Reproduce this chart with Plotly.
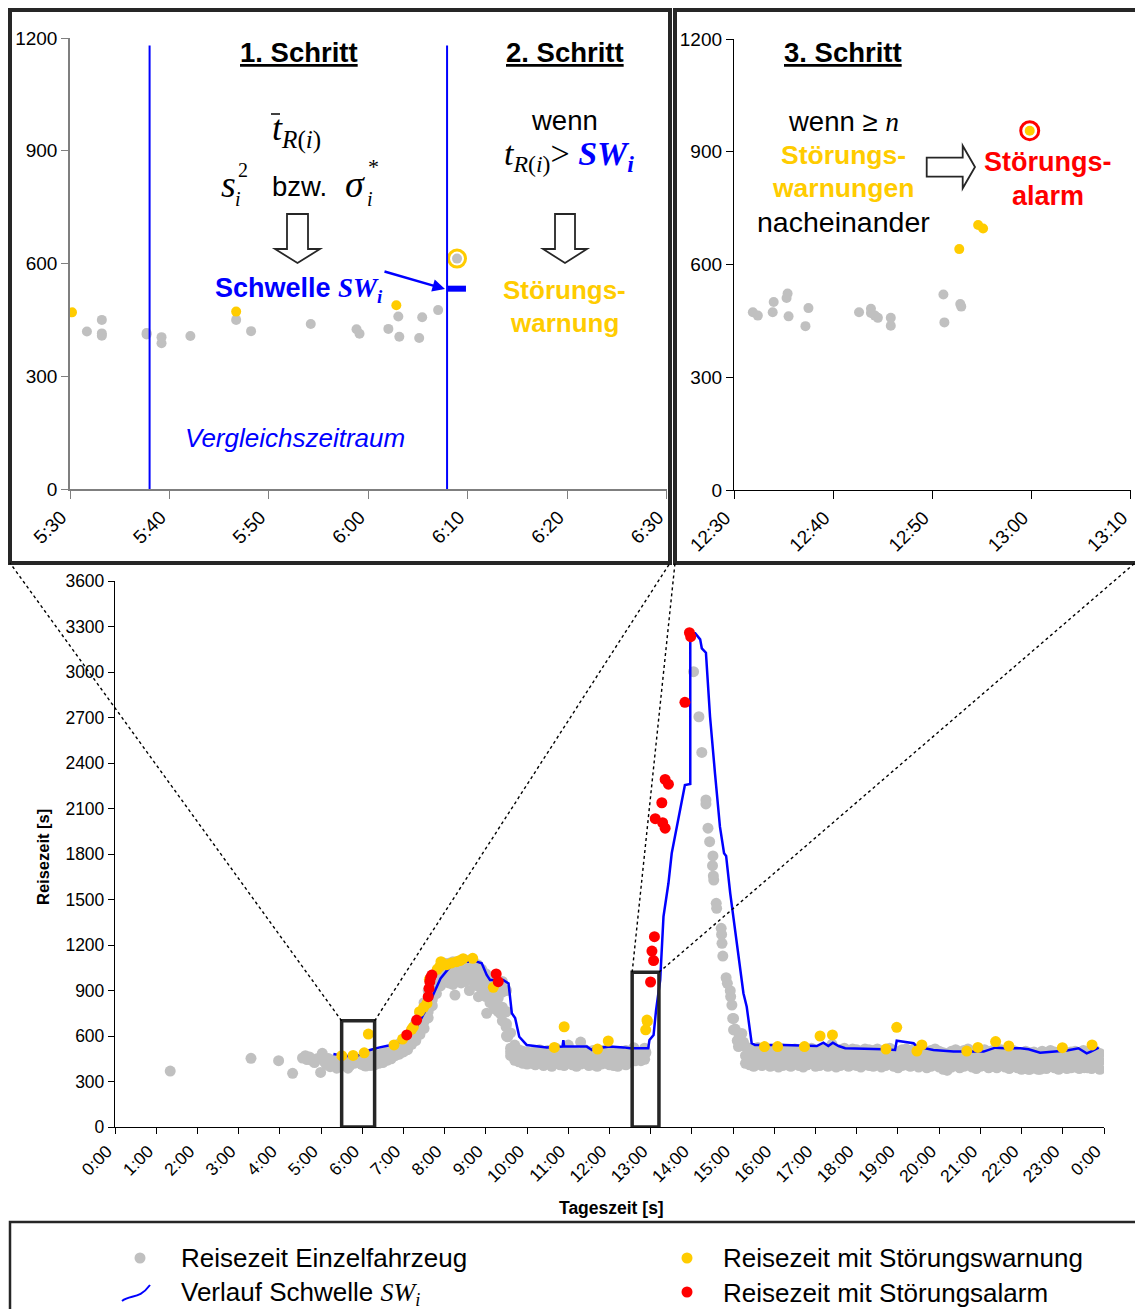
import plotly.graph_objects as go

W, H = 1135, 1309
SANS = "Liberation Sans, Arial, Helvetica, sans-serif"
SERIF = "Liberation Serif, Times New Roman, serif"
GRAY, YELLOW, RED, BLUE, FRAME = "#C0C0C0", "#FFCC00", "#FF0000", "#0000FF", "#262626"

# ---------------- data: time of day [h], travel time [s] ----------------
# early isolated vehicles
early_t = [1.34, 3.30, 3.97, 4.31, 4.55, 4.62, 4.66, 4.72, 4.78, 4.84, 4.90, 4.99, 5.03,
           5.08, 5.13, 5.18, 5.22, 5.28, 5.33, 5.38, 5.43, 5.47]
early_v = [369, 453, 437, 354, 455, 470, 445, 462, 440, 425, 450, 360, 486,
           430, 412, 452, 398, 440, 420, 388, 432, 405]

# detail window 5:30-6:30 (minutes after 5:30)
win1_gray_m = [1.7, 3.2, 3.2, 3.2, 7.7, 7.7, 9.2, 9.2, 12.1, 16.7, 18.2, 24.2, 28.8, 29.1,
               32.0, 33.0, 33.1, 35.1, 35.4, 37.0]
win1_gray_v = [419, 450, 414, 408, 415, 411, 404, 388, 407, 450, 420, 439, 425, 413,
               426, 459, 405, 402, 457, 476]
win1_warn_m = [0.2, 16.7, 32.8]
win1_warn_v = [470, 472, 489]
win1_check_m = [38.9]
win1_check_v = [613]
win1_sw_m = [37.9, 39.8]
win1_sw_v = [533, 533]
win1_period_m = [8.0, 37.9]      # comparison period limits

# detail window 12:30-13:10 (minutes after 12:30)
win2_gray_m = [1.9, 2.4, 3.9, 4.0, 5.3, 5.4, 5.5, 7.2, 7.5, 12.6, 13.8, 13.8, 14.2, 14.5,
               15.8, 15.8, 21.1, 21.2, 22.8, 22.9]
win2_gray_v = [473, 464, 473, 500, 511, 523, 462, 436, 484, 473, 482, 471, 464, 458,
               458, 437, 520, 446, 495, 488]
win2_warn_m = [22.7, 24.6, 25.1]
win2_warn_v = [641, 705, 696]
win2_alarm_m = [29.8]
win2_alarm_v = [956]

# morning band 6:12 .. 10:06, readings every 6 minutes (lower / lower-middle / middle / upper)
morn_start = 6.2
morn_lo = [405, 410, 420, 425, 440, 450, 470, 480, 495, 510, 545, 570, 610, 650, 720, 800, 880, 930, 960, 950,
           940, 960, 950, 960, 980, 960, 930, 880, 860, 820, 780, 760, 700, 600, 470, 440, 430, 420, 415, 420]
morn_lm = [420, 428, 436, 440, 455, 465, 485, 498, 512, 535, 565, 600, 645, 695, 760, 840, 920, 965, 990, 990,
           985, 1000, 995, 1005, 1020, 1005, 975, 930, 905, 860, 830, 800, 790, 680, 495, 460, 450, 440, 435, 435]
morn_mid = [440, 445, 450, 455, 470, 480, 500, 515, 530, 560, 590, 630, 680, 740, 800, 880, 960, 1000, 1020, 1030,
            1030, 1040, 1040, 1050, 1060, 1050, 1020, 980, 950, 900, 880, 850, 890, 760, 520, 480, 470, 460, 455, 450]
morn_hi = [470, 480, 475, 490, 500, 510, 530, 550, 570, 600, 640, 690, 750, 820, 900, 960, 1020, 1060, 1080, 1080,
           1090, 1090, 1095, 1100, 1100, 1090, 1070, 1040, 1010, 980, 960, 950, 960, 900, 620, 540, 510, 500, 495, 490]
morn_out_t = [8.25, 8.60, 8.82, 9.02, 9.17, 9.30, 9.35, 9.49, 9.53]
morn_out_v = [870, 900, 859, 750, 925, 771, 750, 661, 595]

# midday band 10:12 .. 12:24
mid_start = 10.2
mid_lo = [410, 420, 405, 415, 400, 420, 410, 405, 425, 410, 400, 415, 420, 405, 410, 400, 415, 420, 410, 405, 400, 415, 410]
mid_mid = [450, 460, 445, 455, 440, 460, 450, 445, 470, 455, 440, 450, 465, 450, 455, 445, 450, 460, 450, 445, 440, 455, 450]
mid_hi = [500, 510, 490, 505, 485, 520, 500, 495, 540, 500, 490, 560, 510, 500, 505, 495, 500, 510, 495, 490, 485, 500, 505]

# congestion decay after the incident
peak_t = [14.04, 14.17, 14.24, 14.34, 14.34, 14.39, 14.43, 14.51, 14.50, 14.52, 14.53, 14.59, 14.60, 14.71,
          14.72, 14.73, 14.75, 14.83, 14.86, 14.93, 14.94, 14.97, 14.99, 15.01, 15.01, 15.05, 15.10, 15.13,
          15.15, 15.21, 15.25]
peak_v = [3002, 2705, 2470, 2156, 2130, 1970, 1881, 1787, 1723, 1655, 1628, 1475, 1442, 1310,
          1270, 1211, 1127, 984, 947, 899, 860, 804, 716, 716, 640, 646, 570, 530,
          600, 617, 560]

# afternoon / evening band 15:18 .. 23:54
eve_start = 15.3
eve_lo = [420, 410, 400, 415, 405, 420, 400, 410, 395, 405,
          410, 400, 415, 405, 395, 410, 420, 400, 405, 415,
          400, 410, 395, 405, 415, 400, 410, 405, 395, 410,
          405, 400, 410, 395, 405, 415, 400, 390, 405, 410,
          400, 410, 395, 405, 390, 400, 410, 395, 380, 375,
          395, 405, 390, 400, 410, 395, 385, 400, 405, 390,
          400, 390, 405, 395, 385, 400, 390, 380, 395, 380,
          390, 380, 395, 385, 400, 390, 380, 395, 385, 390,
          395, 385, 400, 390, 385, 395, 380]
eve_mid = [470, 460, 455, 465, 450, 470, 455, 460, 450, 465,
           460, 455, 470, 450, 445, 465, 470, 455, 460, 470,
           455, 465, 450, 460, 470, 455, 465, 460, 450, 465,
           460, 455, 465, 450, 460, 470, 455, 445, 460, 465,
           455, 465, 450, 460, 445, 455, 465, 450, 440, 435,
           450, 460, 445, 455, 465, 450, 440, 455, 460, 445,
           455, 445, 460, 450, 440, 455, 445, 435, 450, 440,
           445, 435, 450, 440, 455, 445, 435, 450, 440, 445,
           450, 440, 455, 445, 440, 450, 435]
eve_hi = [530, 520, 510, 525, 505, 515, 500, 510, 500, 515,
          505, 500, 515, 500, 495, 510, 520, 505, 510, 520,
          505, 515, 500, 510, 520, 505, 515, 510, 500, 515,
          510, 505, 515, 500, 510, 520, 505, 495, 510, 515,
          505, 515, 500, 510, 495, 505, 515, 500, 490, 485,
          500, 510, 495, 505, 515, 500, 490, 505, 510, 495,
          505, 495, 510, 500, 490, 505, 495, 485, 500, 490,
          495, 485, 500, 490, 505, 495, 485, 500, 490, 495,
          500, 490, 505, 495, 490, 500, 485]
eve_out_t = [17.40, 20.18, 22.17, 22.45, 23.52, 23.83]
eve_out_v = [545, 376, 380, 380, 391, 430]

# warnings and alarms
warn_t = [5.503, 5.778, 6.047, 6.148, 6.77, 6.98, 7.20, 7.24, 7.39, 7.49, 7.57, 7.63, 7.82, 7.88, 7.91,
          8.05, 8.17, 8.29, 8.37, 8.45, 8.68, 9.18, 10.66, 10.90, 11.71, 11.97, 12.878, 12.910, 12.918,
          15.76, 16.08, 16.73, 17.11, 17.41, 18.71, 18.97, 19.46, 19.58, 20.67, 20.94, 21.37, 21.69,
          22.99, 23.71]
warn_v = [470, 472, 489, 613, 541, 580, 644, 660, 760, 789, 815, 974, 1040, 1057, 1090,
          1070, 1082, 1090, 1097, 1110, 1112, 921, 525, 661, 514, 567, 641, 705, 696,
          530, 530, 530, 600, 607, 514, 657, 501, 541, 501, 525, 563, 534,
          523, 541]
alarm_t = [7.08, 7.32, 7.60, 7.62, 7.64, 7.66, 7.69, 9.25, 9.30, 12.997, 13.03, 13.07, 13.09, 13.11,
           13.27, 13.29, 13.35, 13.35, 13.43, 13.83, 13.94, 13.97]
alarm_v = [607, 705, 859, 914, 958, 985, 1002, 1009, 958, 956, 1160, 1097, 1255, 2033,
           2138, 2006, 1970, 2292, 2260, 2800, 3259, 3233]

# threshold SW_i
sw_t = [5.30, 5.54, 5.87, 6.19, 6.42, 6.70, 7.00, 7.30, 7.60, 7.90, 8.20, 8.50, 8.78, 8.90, 9.02, 9.10,
        9.42, 9.55, 9.63, 9.71, 9.81, 9.93, 9.99, 10.48, 10.86, 10.88, 10.90, 11.45, 11.57, 11.60, 12.01,
        12.34, 12.50, 12.94, 12.97, 13.07, 13.13, 13.23, 13.31, 13.43, 13.51, 13.83, 13.96, 13.96, 14.08,
        14.20, 14.24, 14.34, 14.44, 14.56, 14.68, 14.78, 14.83, 14.93, 15.07, 15.25, 15.33, 15.45, 15.53,
        16.22, 17.03, 17.19, 17.31, 17.42, 17.56, 17.72, 18.65, 18.93, 18.97, 19.38, 19.46, 19.86, 20.35,
        21.08, 21.36, 21.60, 21.97, 22.17, 22.45, 22.69, 23.10, 23.38, 23.58, 23.68, 23.87]
sw_v = [481, 468, 468, 508, 525, 540, 570, 650, 800, 980, 1080, 1090, 1090, 1079, 1002, 969,
        969, 947, 750, 718, 595, 562, 541, 525, 530, 573, 530, 530, 508, 516, 530,
        525, 520, 519, 574, 607, 771, 969, 1387, 1607, 1805, 2255, 2262, 3255, 3255,
        3215, 3156, 3127, 2705, 2332, 1980, 1805, 1787, 1541, 1255, 882, 793, 552, 541,
        541, 534, 556, 534, 556, 534, 519, 513, 508, 569, 552, 530, 508, 497,
        497, 523, 519, 519, 513, 490, 497, 504, 519, 486, 497, 523]
assert len(sw_t) == len(sw_v) and len(warn_t) == len(warn_v) and len(alarm_t) == len(alarm_v)

hour_labels = [f"{h % 24}:00" for h in range(25)]
win1_labels = ["5:30", "5:40", "5:50", "6:00", "6:10", "6:20", "6:30"]
win2_labels = ["12:30", "12:40", "12:50", "13:00", "13:10"]

# ---------------- assemble ----------------
def band(start, rows):
    ts, vs = [], []
    for row in rows:
        for i, v in enumerate(row):
            ts.append(round(start + 0.1 * i, 2))
            vs.append(v)
    return ts, vs

w1h = lambda m: 5.5 + m / 60.0
w2h = lambda m: 12.5 + m / 60.0

mt, mv = band(morn_start, [morn_lo, morn_lm, morn_mid, morn_hi])
dt, dv = band(mid_start, [mid_lo, mid_mid, mid_hi])
et, ev = band(eve_start, [eve_lo, eve_mid, eve_hi])
gray_t = (early_t + [w1h(m) for m in win1_gray_m] + mt + morn_out_t + dt +
          [w2h(m) for m in win2_gray_m] + peak_t + et + eve_out_t)
gray_v = early_v + win1_gray_v + mv + morn_out_v + dv + win2_gray_v + peak_v + ev + eve_out_v

# ---------------- geometry (pixels) ----------------
MX0, MX1, MYB, MYT = 115, 1104, 1127, 581
A1X0, A1X1, A1YB, A1YT = 70, 667, 489, 38
A2X0, A2X1, A2YB, A2YT = 734, 1131, 490, 39


def px(x):
    return x / W


def py(y):
    return 1 - y / H


def main_px(h):
    return MX0 + (MX1 - MX0) * h / 24.0


def main_py(v):
    return MYB - (MYB - MYT) * v / 3600.0


fig = go.Figure()
MS_DAY, MS = 11, 10
fig.add_trace(go.Scatter(x=gray_t, y=gray_v, mode="markers", marker=dict(color=GRAY, size=MS_DAY),
                         xaxis="x", yaxis="y", hoverinfo="skip"))
fig.add_trace(go.Scatter(x=sw_t, y=sw_v, mode="lines", line=dict(color=BLUE, width=2.5),
                         xaxis="x", yaxis="y", hoverinfo="skip"))
fig.add_trace(go.Scatter(x=warn_t, y=warn_v, mode="markers", marker=dict(color=YELLOW, size=MS_DAY),
                         xaxis="x", yaxis="y", hoverinfo="skip"))
fig.add_trace(go.Scatter(x=alarm_t, y=alarm_v, mode="markers", marker=dict(color=RED, size=MS_DAY),
                         xaxis="x", yaxis="y", hoverinfo="skip"))

# window 1
fig.add_trace(go.Scatter(x=[w1h(m) for m in win1_gray_m + win1_check_m], y=win1_gray_v + win1_check_v,
                         mode="markers", marker=dict(color=GRAY, size=MS), xaxis="x2", yaxis="y2"))
fig.add_trace(go.Scatter(x=[w1h(m) for m in win1_warn_m], y=win1_warn_v, mode="markers",
                         marker=dict(color=YELLOW, size=MS), xaxis="x2", yaxis="y2"))
fig.add_trace(go.Scatter(x=[w1h(m) for m in win1_check_m], y=win1_check_v, mode="markers",
                         marker=dict(symbol="circle-open", color=YELLOW, size=17, line=dict(width=3)),
                         xaxis="x2", yaxis="y2"))
fig.add_trace(go.Scatter(x=[w1h(m) for m in win1_sw_m], y=win1_sw_v, mode="lines",
                         line=dict(color=BLUE, width=6), xaxis="x2", yaxis="y2"))

# window 2
fig.add_trace(go.Scatter(x=[w2h(m) for m in win2_gray_m], y=win2_gray_v, mode="markers",
                         marker=dict(color=GRAY, size=MS), xaxis="x3", yaxis="y3"))
fig.add_trace(go.Scatter(x=[w2h(m) for m in win2_warn_m + win2_alarm_m], y=win2_warn_v + win2_alarm_v,
                         mode="markers", marker=dict(color=YELLOW, size=MS), xaxis="x3", yaxis="y3"))
fig.add_trace(go.Scatter(x=[w2h(m) for m in win2_alarm_m], y=win2_alarm_v, mode="markers",
                         marker=dict(symbol="circle-open", color=RED, size=18, line=dict(width=3)),
                         xaxis="x3", yaxis="y3"))

axis_common = dict(showgrid=False, zeroline=False, showline=True, ticks="outside", mirror=False,
                   automargin=False)
fig.update_layout(
    width=W, height=H, margin=dict(l=0, r=0, t=0, b=0, autoexpand=False),
    paper_bgcolor="white", plot_bgcolor="rgba(0,0,0,0)", showlegend=False,
    font=dict(family=SANS, color="black"),
    xaxis=dict(domain=[px(MX0), px(MX1)], range=[0, 24], tickvals=list(range(25)), ticktext=hour_labels,
               tickangle=-45, ticklen=6, linecolor="black", linewidth=1.3, tickcolor="black",
               tickfont=dict(size=17.5, family=SANS), ticklabelshift=-8, anchor="y", **axis_common),
    yaxis=dict(domain=[py(MYB), py(MYT)], range=[0, 3600], dtick=300, ticklen=6, linecolor="black",
               linewidth=1.3, tickcolor="black", tickfont=dict(size=17.5, family=SANS), anchor="x",
               **axis_common),
    xaxis2=dict(domain=[px(A1X0), px(A1X1)], range=[5.5, 6.5 + 1e-4],
                tickvals=[round(5.5 + i / 6, 6) for i in range(7)], ticktext=win1_labels, tickangle=-45,
                ticklen=8, linecolor="#7f7f7f", linewidth=1.5, tickcolor="#7f7f7f", tickfont=dict(size=19),
                ticklabelshift=-9, anchor="y2", **axis_common),
    yaxis2=dict(domain=[py(A1YB), py(A1YT)], range=[0, 1200], dtick=300, ticklen=7, linecolor="#7f7f7f",
                linewidth=1.5, tickcolor="#7f7f7f", tickfont=dict(size=19), anchor="x2", **axis_common),
    xaxis3=dict(domain=[px(A2X0), px(A2X1)], range=[12.5, 12.5 + 40 / 60 + 1e-4],
                tickvals=[round(12.5 + i / 6, 6) for i in range(5)], ticktext=win2_labels, tickangle=-45,
                ticklen=8, linecolor="black", linewidth=1.3, tickcolor="black", tickfont=dict(size=19),
                ticklabelshift=-9, anchor="y3", **axis_common),
    yaxis3=dict(domain=[py(A2YB), py(A2YT)], range=[0, 1200], dtick=300, ticklen=7, linecolor="black",
                linewidth=1.3, tickcolor="black", tickfont=dict(size=19), anchor="x3", **axis_common),
)

shapes = []
# comparison period limits in window 1
for m in win1_period_m:
    shapes.append(dict(type="line", xref="x2", yref="y2", x0=w1h(m), x1=w1h(m), y0=0, y1=1180,
                       line=dict(color=BLUE, width=2)))
# detail boxes in the day chart
box1 = (5.5, 6.3, 700)
box2 = (12.55, 13.2, 1020)
for (a, b, top) in (box1, box2):
    shapes.append(dict(type="rect", xref="x", yref="y", x0=a, x1=b, y0=0, y1=top,
                       line=dict(color=FRAME, width=3.5), layer="above"))
# window frames
shapes.append(dict(type="rect", xref="paper", yref="paper", x0=px(10), x1=px(670), y0=py(563), y1=py(10),
                   line=dict(color=FRAME, width=4)))
shapes.append(dict(type="rect", xref="paper", yref="paper", x0=px(675), x1=px(1140), y0=py(563), y1=py(10),
                   line=dict(color=FRAME, width=4)))
# dotted connectors box -> window
conn = [((main_px(box1[0]), main_py(box1[2])), (10, 563)),
        ((main_px(box1[1]), main_py(box1[2])), (670, 563)),
        ((main_px(box2[0]), main_py(box2[2])), (675, 563)),
        ((main_px(box2[1]), main_py(box2[2])), (1135, 563))]
for (p, q) in conn:
    shapes.append(dict(type="line", xref="paper", yref="paper", x0=px(p[0]), y0=py(p[1]),
                       x1=px(q[0]), y1=py(q[1]), line=dict(color="black", width=1.4, dash="dot")))


def poly(points):
    return "M " + " L ".join(f"{px(x):.5f},{py(y):.5f}" for x, y in points) + " Z"


for pts in ([(287, 214), (308, 214), (308, 249), (320, 249), (297.5, 263), (275, 249), (287, 249)],
            [(555, 214), (575, 214), (575, 249), (587, 249), (565, 263), (543, 249), (555, 249)],
            [(926.7, 157.7), (962.7, 157.7), (962.7, 145.7), (975, 167), (962.7, 188.3), (962.7, 176.7),
             (926.7, 176.7)]):
    shapes.append(dict(type="path", xref="paper", yref="paper", path=poly(pts), fillcolor="white",
                       line=dict(color=FRAME, width=1.8)))
# macron over t
shapes.append(dict(type="line", xref="paper", yref="paper", x0=px(271), x1=px(280), y0=py(114), y1=py(114),
                   line=dict(color="black", width=1.5)))
# legend frame and symbols
shapes.append(dict(type="rect", xref="paper", yref="paper", x0=px(10), x1=px(1145), y0=py(1320), y1=py(1222),
                   line=dict(color=FRAME, width=2.5)))
for (cx, cy, col) in ((140, 1258, GRAY), (687, 1258, YELLOW), (687, 1292, RED)):
    shapes.append(dict(type="circle", xref="paper", yref="paper", x0=px(cx - 5.5), x1=px(cx + 5.5),
                       y0=py(cy + 5.5), y1=py(cy - 5.5), fillcolor=col, line=dict(width=0)))
shapes.append(dict(type="path", xref="paper", yref="paper",
                   path=(f"M {px(122):.5f},{py(1301):.5f} C {px(131):.5f},{py(1294):.5f} "
                         f"{px(139):.5f},{py(1300):.5f} {px(150):.5f},{py(1285):.5f}"),
                   line=dict(color=BLUE, width=2)))
fig.update_layout(shapes=shapes)

ann = []


def txt(x, y, text, size, color="black", family=SANS, xanchor="center", angle=0):
    ann.append(dict(x=px(x), y=py(y), xref="paper", yref="paper", text=text, showarrow=False,
                    xanchor=xanchor, yanchor="middle", textangle=angle,
                    font=dict(size=size, color=color, family=family)))


serif_span = "<span style='font-family:Liberation Serif, Times New Roman, serif'>"
# window 1 texts
txt(299, 52, "<b><u>1. Schritt</u></b>", 27.5)
txt(565, 52, "<b><u>2. Schritt</u></b>", 27.5)
txt(296, 131, "<i>t</i><sub><i>R</i>(<i>i</i>)</sub>", 36, family=SERIF)
txt(228, 184, "<i>s</i>", 38, family=SERIF)
txt(243, 170, "2", 20, family=SERIF)
txt(238, 199, "<i>i</i>", 20, family=SERIF)
txt(299, 187, "bzw.", 27.5)
txt(355, 184, "<i>σ</i>", 38, family=SERIF)
txt(374, 167, "*", 22, family=SERIF)
txt(370, 199, "<i>i</i>", 20, family=SERIF)
txt(299, 290, "<b>Schwelle </b>" + serif_span + "<b><i>SW</i></b><sub><b><i>i</i></b></sub></span>", 27,
    color=BLUE)
txt(295, 438, "<i>Vergleichszeitraum</i>", 26, color=BLUE)
txt(564, 120, "wenn", 27.5)
txt(569, 156, "<i>t</i><sub><i>R</i>(<i>i</i>)</sub>><span style='color:#0000FF'> <b><i>SW</i></b>"
    "<sub><b><i>i</i></b></sub></span>", 34, family=SERIF)
txt(564, 290, "<b>Störungs-</b>", 26, color=YELLOW)
txt(564, 323, "<b>warnung</b>", 26, color=YELLOW)
ann.append(dict(x=px(445), y=py(289), xref="paper", yref="paper", ax=-62, ay=-18, text="", showarrow=True,
                arrowhead=2, arrowsize=1, arrowwidth=2.5, arrowcolor=BLUE))
# window 2 texts
txt(843, 53, "<b><u>3. Schritt</u></b>", 27.5)
txt(843, 122, "wenn ≥ " + serif_span + "<i>n</i></span>", 27.5)
txt(843, 155, "<b>Störungs-</b>", 26.5, color=YELLOW)
txt(843, 188, "<b>warnungen</b>", 26.5, color=YELLOW)
txt(843, 222, "nacheinander", 28.5)
txt(1048, 162, "<b>Störungs-</b>", 27, color=RED)
txt(1048, 196, "<b>alarm</b>", 27, color=RED)
# axis titles
txt(43, 857, "<b>Reisezeit [s]</b>", 16.5, angle=-90)
txt(611, 1208, "<b>Tageszeit [s]</b>", 17.5)
# legend texts
txt(179, 1258, "Reisezeit Einzelfahrzeug", 26, xanchor="left")
txt(179, 1293, "Verlauf Schwelle " + serif_span + "<i>SW</i><sub><i>i</i></sub></span>", 26, xanchor="left")
txt(721, 1258, "Reisezeit mit Störungswarnung", 26, xanchor="left")
txt(721, 1293, "Reisezeit mit Störungsalarm", 26, xanchor="left")
fig.update_layout(annotations=ann)

fig.write_html("out.html")
